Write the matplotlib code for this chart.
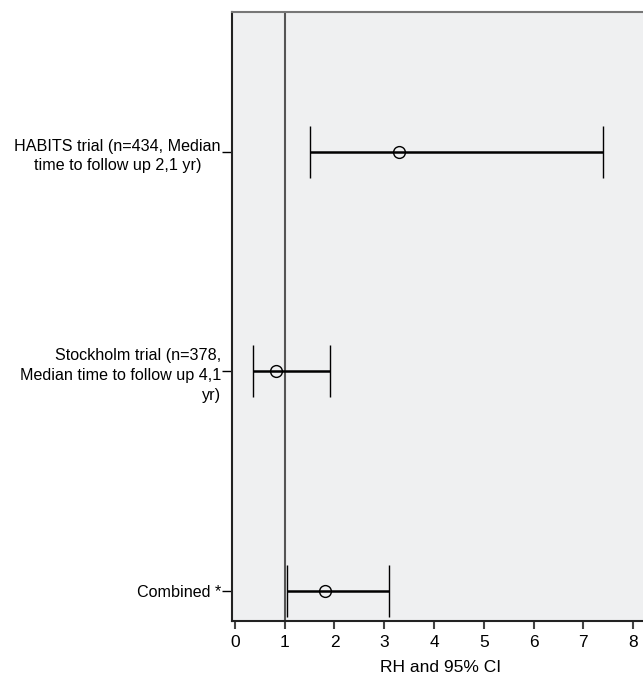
import numpy as np
import matplotlib.pyplot as plt

# forest plot data
labels = ['HABITS trial (n=434, Median\ntime to follow up 2,1 yr)',
          'Stockholm trial (n=378,\nMedian time to follow up 4,1\nyr)',
          'Combined *']
rh = [3.3, 0.82, 1.8]
ci_low = [1.5, 0.36, 1.04]
ci_high = [7.4, 1.9, 3.1]
xticks = [0, 1, 2, 3, 4, 5, 6, 7, 8]

plt.rcParams['font.family'] = ['Liberation Sans', 'DejaVu Sans']

fig = plt.figure(figsize=(6.43, 6.78), dpi=100)
ax = fig.add_axes([232 / 643, 57 / 678, 1 - 232 / 643 + 0.01, 609 / 678])
ax.set_facecolor('#eff0f1')

ypos = np.array([2, 1, 0])
rh = np.array(rh)
err = np.array([rh - np.array(ci_low), np.array(ci_high) - rh])

ax.axvline(1, color='#555555', lw=1.5, zorder=1)
ax.errorbar(rh, ypos, xerr=err, fmt='o', mfc='none', mec='black', ms=8.5,
            mew=1, ecolor='black', elinewidth=1.8, capsize=18.7, capthick=2.2,
            zorder=3)

ax.set_xlim(-0.06, 8.33)
ax.set_ylim(-0.137, 2.638)
ax.set_xticks(xticks)
ax.set_yticks(ypos)
ax.set_yticklabels(labels)
tl = ax.get_yticklabels()
tl[0].set_multialignment('center')
tl[1].set_multialignment('right')
for t in tl:
    t.set_linespacing(1.4)

ax.tick_params(axis='y', length=7, width=1, labelsize=11.6, pad=1)
ax.tick_params(axis='x', length=6, width=1.5, labelsize=12.5, pad=4, color='#444444')
ax.set_xlabel('RH and 95% CI', fontsize=12.5, labelpad=7)

for s in ['left', 'bottom']:
    ax.spines[s].set_color('#222222')
    ax.spines[s].set_linewidth(1.5)
ax.spines['top'].set_color('#777777')
ax.spines['top'].set_linewidth(1.5)
ax.spines['right'].set_visible(False)

fig.savefig('out.png', dpi=100)
